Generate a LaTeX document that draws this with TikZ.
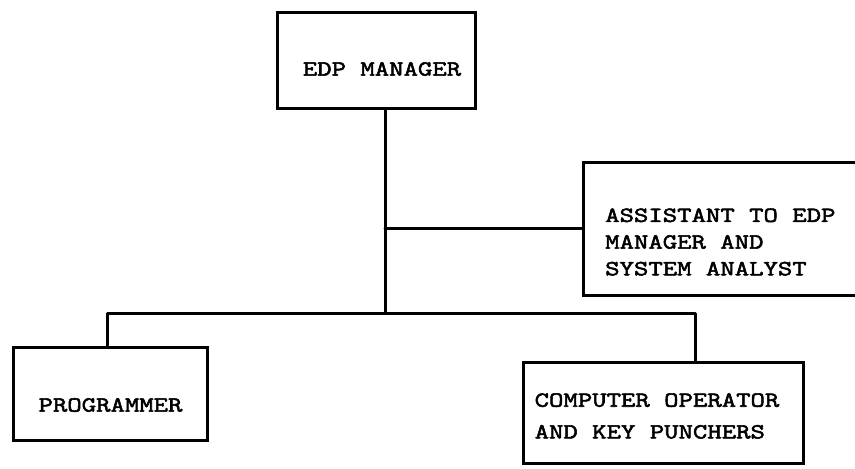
\documentclass[tikz,border=0pt]{standalone}
\usepackage{fontspec}
\newfontfamily\tw[FakeStretch=1.3, FakeBold=2.5]{Latin Modern Mono}
\begin{document}
\begin{tikzpicture}[x=1pt,y=-1pt,
  box/.style={draw=black, line width=3pt, rectangle, inner sep=0pt},
  conn/.style={draw=black, line width=3pt, line cap=round, line join=round},
  lbl/.style={inner sep=0pt, font=\tw\fontsize{21.5}{26.7}\selectfont, align=left}]
\useasboundingbox (0,0) rectangle (855,469);
\clip (0,0) rectangle (855,469);
\fill[white] (0,0) rectangle (855,469);
% boxes
\node[box, minimum width=198pt, minimum height=96pt] (edp) at (376,60) {};
\node[box, minimum width=297pt, minimum height=133pt] (asst) at (731.5,228.5) {};
\node[box, minimum width=194pt, minimum height=93pt] (prog) at (110,393.5) {};
\node[box, minimum width=280pt, minimum height=101pt] (comp) at (663,412.5) {};
% texts
\node[lbl] (edpt) at (382,69) {EDP MANAGER};
\node[lbl, anchor=west] (asstt) at (605,242) {ASSISTANT TO EDP\\MANAGER AND\\SYSTEM ANALYST};
\node[lbl] (progt) at (110.5,405) {PROGRAMMER};
\node[lbl, font=\tw\fontsize{21.5}{31.7}\selectfont] (compt) at (657,416) {COMPUTER OPERATOR\\AND KEY PUNCHERS};
% connector points
\coordinate (j) at (385,313);
\coordinate (pl) at (107,313);
\coordinate (pr) at (695,313);
% connectors
\draw[conn] (edp.south -| j) -- (j);
\draw[conn] (asst.west -| j) -- (asst.west);
\draw[conn] (pl |- prog.north) -- (pl) -- (pr) -- (pr |- comp.north);
\end{tikzpicture}
\end{document}
